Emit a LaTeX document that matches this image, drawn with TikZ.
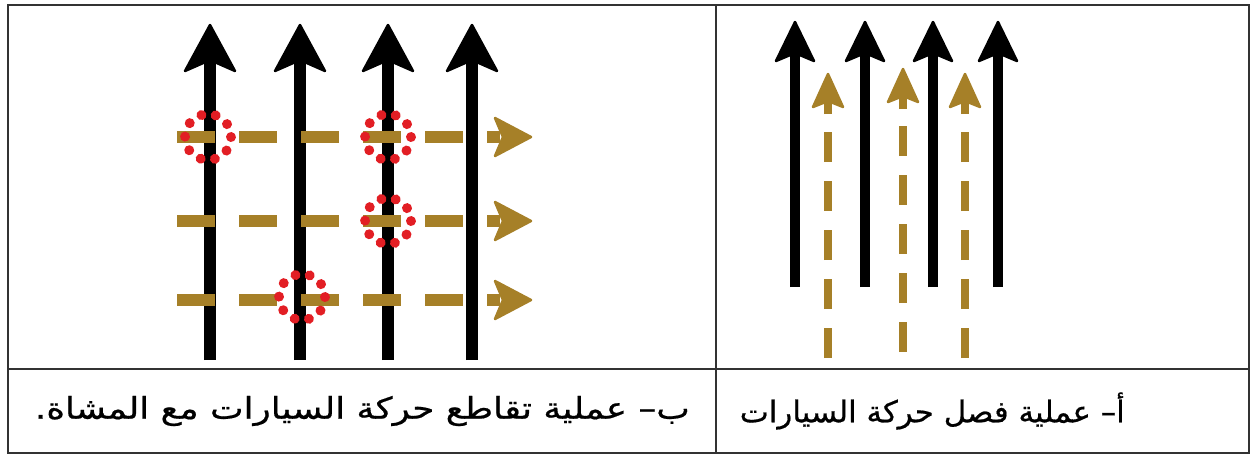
\documentclass[tikz,border=0pt]{standalone}
\usepackage{fontspec}
\newfontfamily\arabicfont[Script=Arabic]{DejaVu Sans}
\newfontfamily\arabicwide[Script=Arabic,FakeStretch=1.19,FakeBold=0.6]{DejaVu Sans}
\newfontfamily\arabicnarrow[Script=Arabic,FakeStretch=1.03,FakeBold=0.6]{DejaVu Sans}
\TeXXeTstate=1
\definecolor{lane}{RGB}{166,128,40}
\definecolor{conflict}{RGB}{226,30,36}
\definecolor{rule}{RGB}{50,50,50}
\tikzset{
  frame/.style={draw=rule, line width=1.8pt},
  carline/.style={draw=black, line width=#1},
  carhead/.style={fill=black, draw=black, line width=2.5pt, line join=round},
  walkline/.style={draw=lane, line width=#1},
  walkhead/.style={fill=lane, draw=lane, line width=2.5pt, line join=round},
  ring/.style={draw=conflict, line width=10pt, line cap=round, dash pattern=on 0.01pt off 14.5pt},
  caption/.style={inner sep=0pt}
}
\begin{document}
\begin{tikzpicture}[x=1pt,y=-1pt]
\useasboundingbox (0,0) rectangle (1251,456);
% ---------- table frame ----------
\draw[frame] (8,5) rectangle (1249,453);
\draw[frame] (8,369) -- (1249,369);
\draw[frame] (716,5) -- (716,453);

% ---------- left panel: crossing ----------
% car arrows
\foreach \x in {210,300,388,472}{
  \draw[carline=12pt] (\x,360) -- (\x,55);
  \filldraw[carhead] (\x,25) -- (\x+25,71) -- (\x,60) -- (\x-25,71) -- cycle;
}
% pedestrian dashed arrows
\foreach \y in {137,221,300}{
  \draw[walkline=12pt, dash pattern=on 38pt off 24pt] (177,\y) -- (500,\y);
  \filldraw[walkhead] (531,\y) -- (495,\y-19) -- (503,\y) -- (495,\y+19) -- cycle;
}
% conflict circles
\draw[ring] (208,137) circle (23);
\draw[ring] (388,137) circle (23);
\draw[ring] (388,221) circle (23);
\draw[ring] (302,297) circle (23);

% ---------- right panel: separation ----------
\foreach \x in {795,865,933,998}{
  \draw[carline=10pt] (\x,287) -- (\x,50);
  \filldraw[carhead] (\x,22) -- (\x+19,61) -- (\x,53) -- (\x-19,61) -- cycle;
}
\foreach \x/\t/\b in {828/74/358, 903/69/352, 965/74/358}{
  \draw[walkline=8pt, dash pattern=on 30pt off 19pt] (\x,\b) -- (\x,\t+26);
  \draw[walkline=8pt] (\x,\t+40) -- (\x,\t+28);
  \filldraw[walkhead] (\x,\t) -- (\x+15,\t+33) -- (\x,\t+27) -- (\x-15,\t+33) -- cycle;
}

% ---------- captions ----------
\node[caption, anchor=east, font=\arabicwide\fontsize{30}{34}\selectfont] (capB) at (690,411) {\beginR ب– عملية تقاطع حركة السيارات مع المشاة.\endR};
\node[caption, anchor=east, font=\arabicnarrow\fontsize{30}{34}\selectfont] (capA) at (1125,411) {\beginR أ–  عملية فصل حركة السيارات\endR};
\end{tikzpicture}
\end{document}
